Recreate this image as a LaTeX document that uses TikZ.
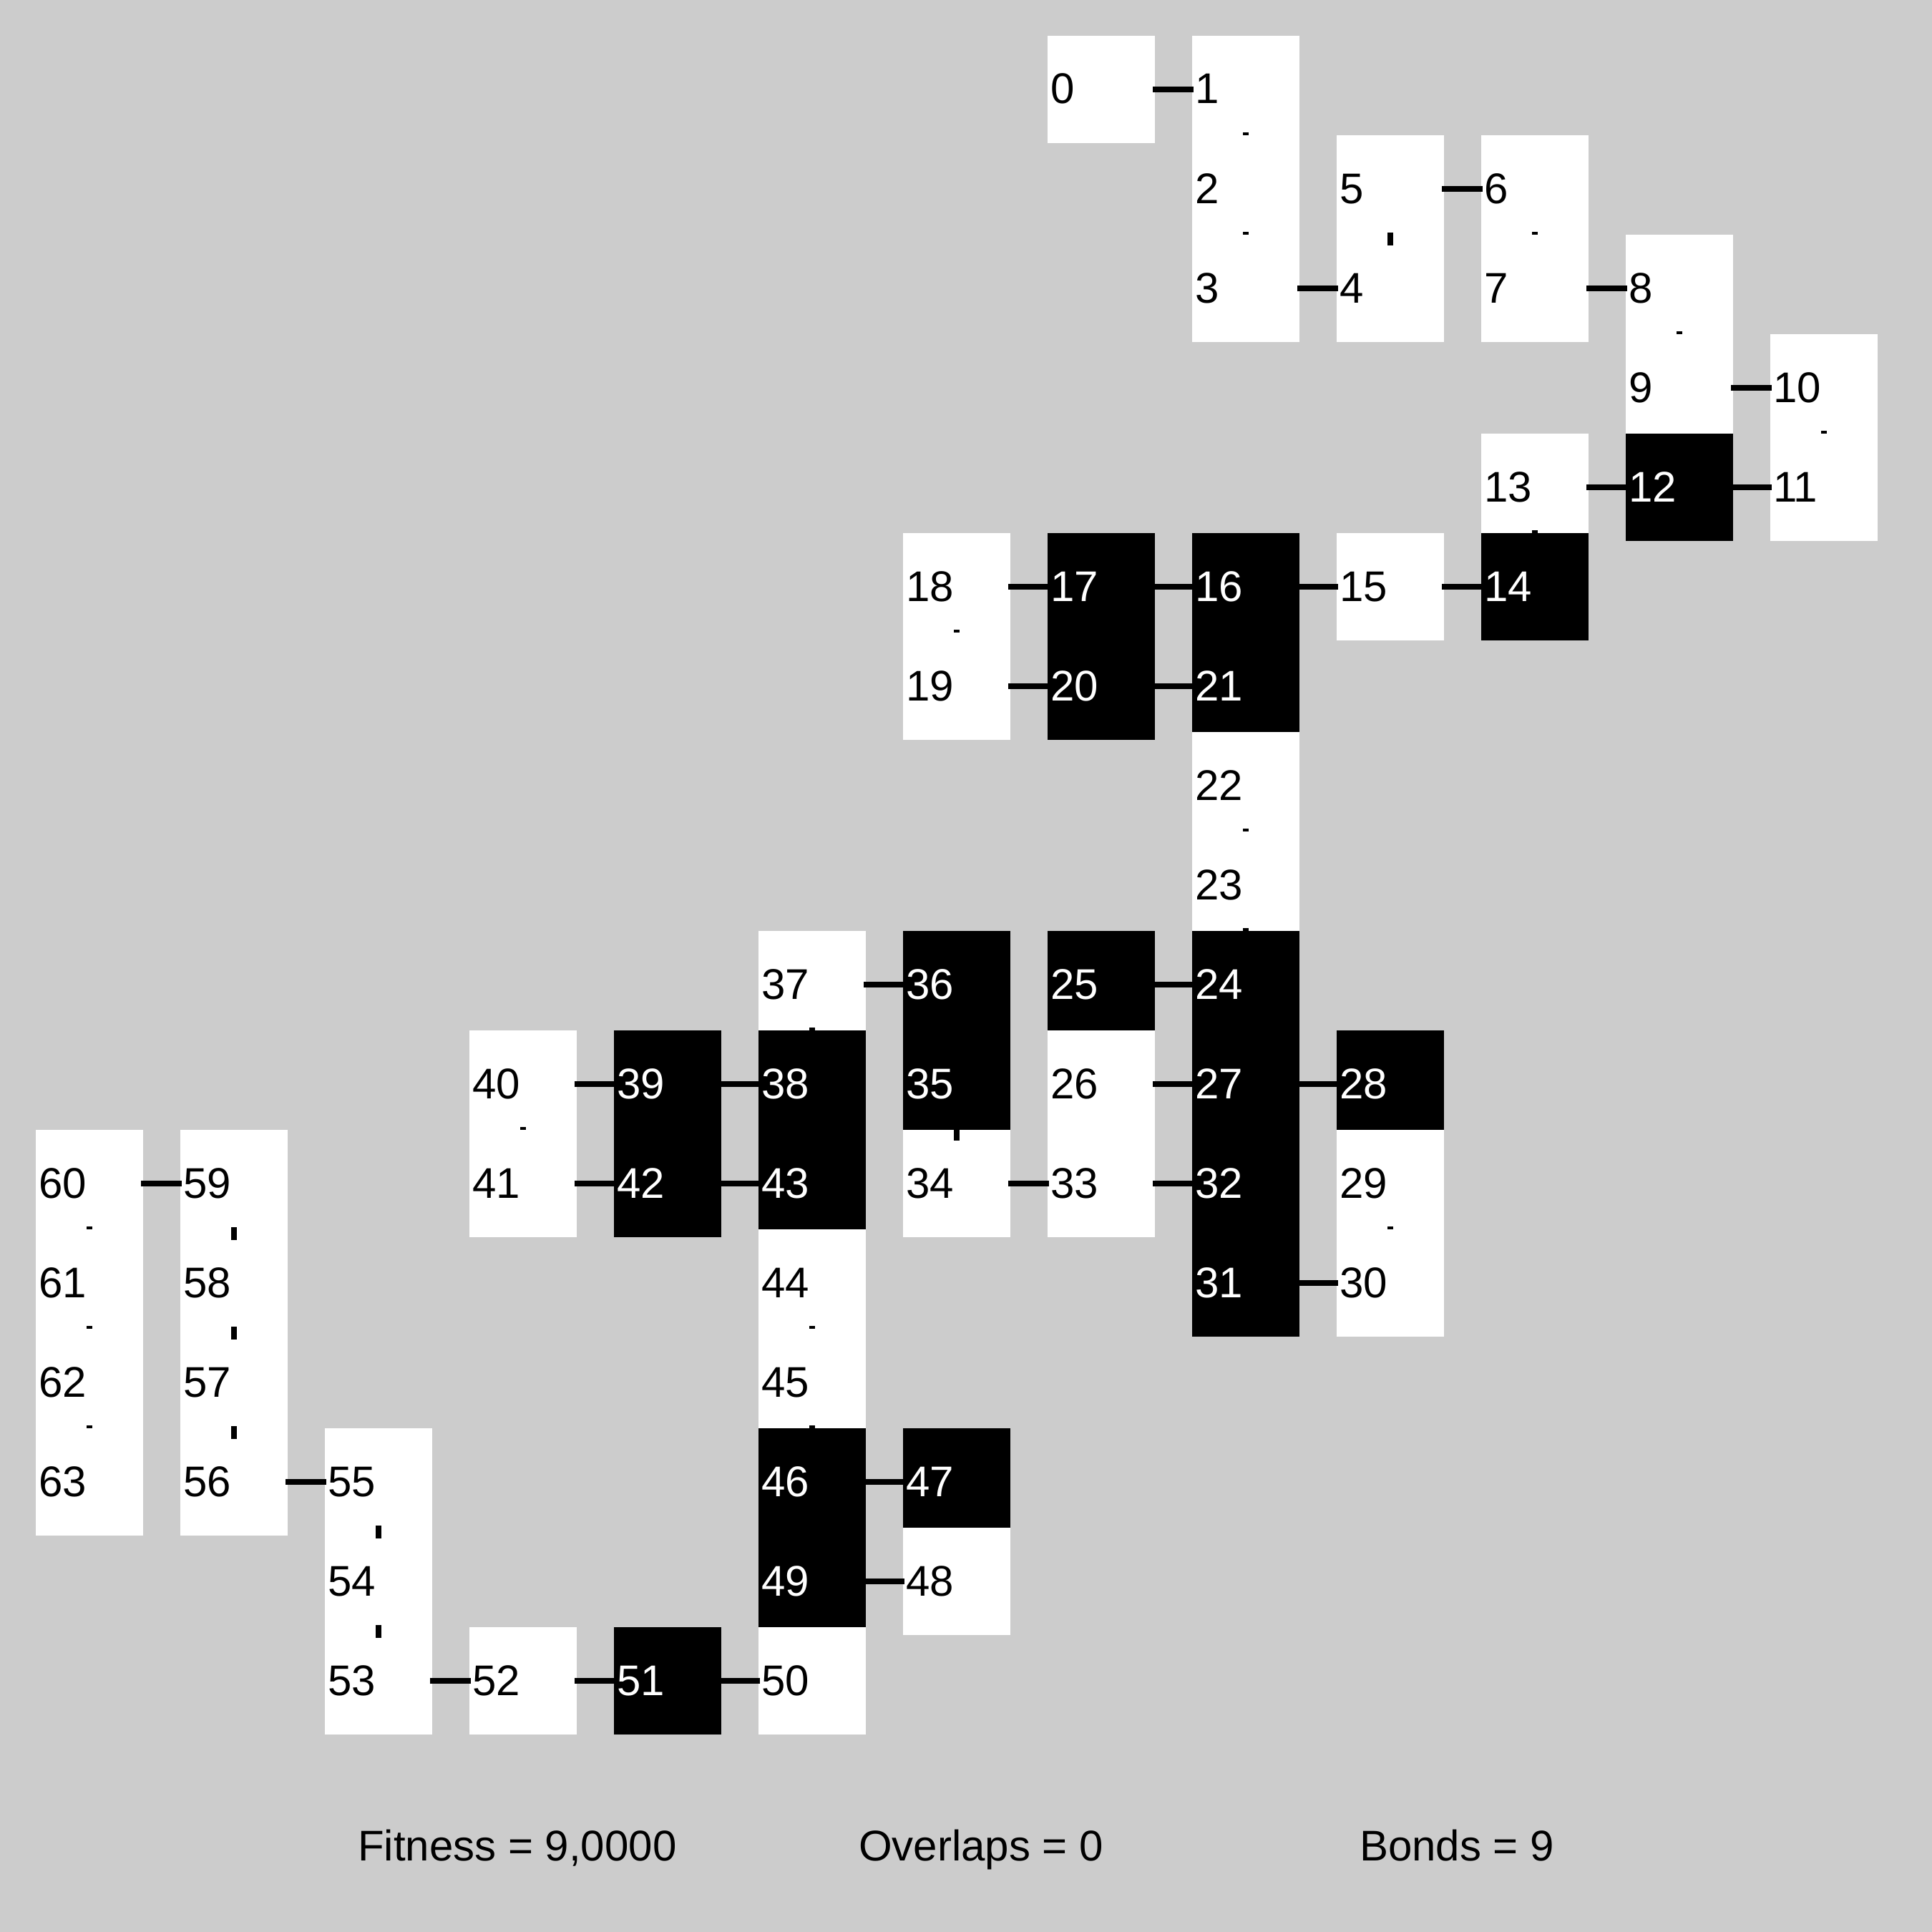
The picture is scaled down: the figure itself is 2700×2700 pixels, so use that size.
\documentclass[tikz,border=0pt]{standalone}
\usepackage{fontspec}
\setmainfont{Liberation Sans}
\usetikzlibrary{calc}
\definecolor{bg}{RGB}{204,204,204}
\tikzset{
  boxW/.style={rectangle, draw=none, fill=white, minimum width=150pt, minimum height=150pt, inner sep=0pt},
  boxB/.style={rectangle, draw=none, fill=black, minimum width=150pt, minimum height=150pt, inner sep=0pt},
  labW/.style={font=\fontsize{60}{62}\selectfont, text=black, inner sep=0pt, anchor=base west},
  labB/.style={font=\fontsize{60}{62}\selectfont, text=white, inner sep=0pt, anchor=base west},
  hbond/.style={draw=black, line width=7.3pt},
  vbond/.style={draw=black, line width=7.3pt},
  info/.style={font=\fontsize{60}{62}\selectfont, text=black, inner sep=0pt, anchor=base west}
}
\newcommand\res[4]{%
  \node[box#4] (r#1) at ({125+202*#2},{125+139*#3}) {};
  \node[lab#4] (l#1) at ([xshift=4pt,yshift=-20pt]r#1.west) {#1};}
\newcommand\hb[2]{\draw[hbond] ([xshift=-3pt]r#1.east) -- ([xshift=2pt]r#2.west);}
\newcommand\upb[2]{\draw[vbond] ([yshift=8.5pt]$(r#1)!0.5!(r#2)$) -- ([yshift=-9.5pt]$(r#1)!0.5!(r#2)$);}
\newcommand\dnb[2]{\draw[vbond] ([yshift=9.5pt]$(r#1)!0.5!(r#2)$) -- ([yshift=5.5pt]$(r#1)!0.5!(r#2)$);}
\begin{document}
\begin{tikzpicture}[x=1pt,y=-1pt]
\useasboundingbox (0,0) rectangle (2700,2700);
\fill[bg] (0,0) rectangle (2700,2700);
% row 0
\res{0}{7}{0}{W}\res{1}{8}{0}{W}
% row 1
\res{2}{8}{1}{W}\res{5}{9}{1}{W}\res{6}{10}{1}{W}
% row 2
\res{3}{8}{2}{W}\res{4}{9}{2}{W}\res{7}{10}{2}{W}\res{8}{11}{2}{W}
% row 3
\res{9}{11}{3}{W}\res{10}{12}{3}{W}
% row 4
\res{13}{10}{4}{W}\res{12}{11}{4}{B}\res{11}{12}{4}{W}
% row 5
\res{18}{6}{5}{W}\res{17}{7}{5}{B}\res{16}{8}{5}{B}\res{15}{9}{5}{W}\res{14}{10}{5}{B}
% row 6
\res{19}{6}{6}{W}\res{20}{7}{6}{B}\res{21}{8}{6}{B}
% row 7, 8
\res{22}{8}{7}{W}
\res{23}{8}{8}{W}
% row 9
\res{37}{5}{9}{W}\res{36}{6}{9}{B}\res{25}{7}{9}{B}\res{24}{8}{9}{B}
% row 10
\res{40}{3}{10}{W}\res{39}{4}{10}{B}\res{38}{5}{10}{B}\res{35}{6}{10}{B}\res{26}{7}{10}{W}\res{27}{8}{10}{B}\res{28}{9}{10}{B}
% row 11
\res{60}{0}{11}{W}\res{59}{1}{11}{W}\res{41}{3}{11}{W}\res{42}{4}{11}{B}\res{43}{5}{11}{B}\res{34}{6}{11}{W}\res{33}{7}{11}{W}\res{32}{8}{11}{B}\res{29}{9}{11}{W}
% row 12
\res{61}{0}{12}{W}\res{58}{1}{12}{W}\res{44}{5}{12}{W}\res{31}{8}{12}{B}\res{30}{9}{12}{W}
% row 13
\res{62}{0}{13}{W}\res{57}{1}{13}{W}\res{45}{5}{13}{W}
% row 14
\res{63}{0}{14}{W}\res{56}{1}{14}{W}\res{55}{2}{14}{W}\res{46}{5}{14}{B}\res{47}{6}{14}{B}
% row 15
\res{54}{2}{15}{W}\res{49}{5}{15}{B}\res{48}{6}{15}{W}
% row 16
\res{53}{2}{16}{W}\res{52}{3}{16}{W}\res{51}{4}{16}{B}\res{50}{5}{16}{W}
% horizontal bonds (left box, right box)
\hb{0}{1}\hb{3}{4}\hb{5}{6}\hb{7}{8}\hb{9}{10}\hb{12}{11}\hb{13}{12}
\hb{15}{14}\hb{16}{15}\hb{17}{16}\hb{18}{17}\hb{19}{20}\hb{20}{21}
\hb{25}{24}\hb{26}{27}\hb{27}{28}\hb{31}{30}\hb{33}{32}\hb{34}{33}
\hb{37}{36}\hb{39}{38}\hb{40}{39}\hb{41}{42}\hb{42}{43}\hb{46}{47}
\hb{49}{48}\hb{51}{50}\hb{52}{51}\hb{53}{52}\hb{56}{55}\hb{60}{59}
% vertical bonds (upper box, lower box)
\dnb{1}{2}\dnb{2}{3}\upb{5}{4}\dnb{6}{7}\dnb{8}{9}\dnb{10}{11}\dnb{13}{14}
\dnb{18}{19}\dnb{21}{22}\dnb{22}{23}\dnb{23}{24}\dnb{25}{26}\dnb{28}{29}\dnb{29}{30}
\upb{32}{31}\upb{35}{34}\upb{36}{35}\dnb{37}{38}\dnb{40}{41}\dnb{43}{44}\dnb{44}{45}
\dnb{45}{46}\dnb{47}{48}\dnb{49}{50}\upb{54}{53}\upb{55}{54}\upb{57}{56}\upb{58}{57}
\upb{59}{58}\dnb{60}{61}\dnb{61}{62}\dnb{62}{63}
% info line
\node[info] (fit) at (500,2600) {Fitness = 9,0000};
\node[info] (ovl) at (1200,2600) {Overlaps = 0};
\node[info] (bnd) at (1900,2600) {Bonds = 9};
\end{tikzpicture}
\end{document}
